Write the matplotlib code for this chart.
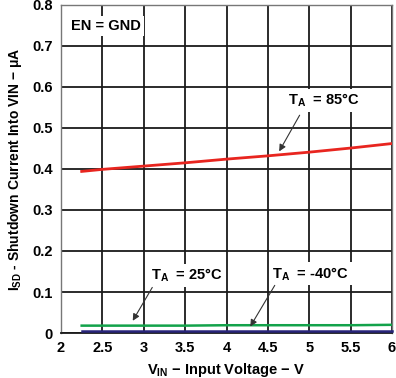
import matplotlib
matplotlib.use('Agg')
import matplotlib.pyplot as plt

plt.rcParams['font.family'] = ['Liberation Sans', 'DejaVu Sans']
plt.rcParams['font.weight'] = 'bold'
plt.rcParams['mathtext.fontset'] = 'custom'
plt.rcParams['mathtext.rm'] = 'Liberation Sans:bold'
plt.rcParams['mathtext.it'] = 'Liberation Sans:bold'
plt.rcParams['mathtext.bf'] = 'Liberation Sans:bold'

# data
vin = [2.25, 2.5, 3, 3.5, 4, 4.5, 5, 5.5, 6]
isd_85 = [0.394, 0.399, 0.407, 0.415, 0.424, 0.432, 0.441, 0.451, 0.462]
isd_25 = [0.018, 0.018, 0.018, 0.018, 0.019, 0.019, 0.019, 0.019, 0.020]
isd_m40 = [0.004, 0.004, 0.004, 0.004, 0.004, 0.004, 0.004, 0.004, 0.004]
xticks = [2, 2.5, 3, 3.5, 4, 4.5, 5, 5.5, 6]
xticklabels = ['2', '2.5', '3', '3.5', '4', '4.5', '5', '5.5', '6']
yticks = [0, 0.1, 0.2, 0.3, 0.4, 0.5, 0.6, 0.7, 0.8]
yticklabels = ['0', '0.1', '0.2', '0.3', '0.4', '0.5', '0.6', '0.7', '0.8']

fig = plt.figure(figsize=(3.96, 3.78), dpi=100)
ax = fig.add_axes([0.154, 0.119, 0.836, 0.868])

ax.plot(vin, isd_85, color='#e8251f', lw=2.0, zorder=3)
ax.plot(vin, isd_25, color='#12a24a', lw=1.8, zorder=3)
ax.plot(vin, isd_m40, color='#28247a', lw=1.8, zorder=3, clip_on=False)

ax.set_xlim(2, 6)
ax.set_ylim(0, 0.8)
ax.set_xticks(xticks)
ax.set_xticklabels(xticklabels)
ax.set_yticks(yticks)
ax.set_yticklabels(yticklabels)
ax.tick_params(length=0, labelsize=10.5, pad=6)
ax.grid(True, color='#1a1a1a', lw=1.3)
ax.set_axisbelow(True)
for s in ax.spines.values():
    s.set_color('#777777')
    s.set_linewidth(1.0)
ax.spines['bottom'].set_color('#1a1a1a')
ax.spines['bottom'].set_linewidth(1.3)

ax.set_xlabel(r'V$_{\mathregular{IN}}$ − Input Voltage − V', fontsize=10.5, fontweight='bold', labelpad=4)
ax.set_ylabel(r'I$_{\mathregular{SD}}$ - Shutdown Current Into VIN − μA', fontsize=10, fontweight='bold', labelpad=6)

box = dict(facecolor='white', edgecolor='none', pad=2)
ax.text(2.12, 0.749, 'EN = GND', fontsize=10.5, fontweight='bold', va='center', bbox=box, zorder=4)

arrow = dict(arrowstyle='-|>', color='#333333', lw=0.8, mutation_scale=10)
ax.annotate('', xy=(4.62, 0.437), xytext=(4.90, 0.537), arrowprops=arrow, zorder=5)
ax.text(4.74, 0.568, r'T$_{\mathregular{A}}$  = 85°C', fontsize=10.5, fontweight='bold', va='center', bbox=box, zorder=4)

ax.annotate('', xy=(2.85, 0.024), xytext=(3.12, 0.117), arrowprops=arrow, zorder=5)
ax.text(3.09, 0.140, r'T$_{\mathregular{A}}$  = 25°C', fontsize=10.5, fontweight='bold', va='center', bbox=box, zorder=4)

ax.annotate('', xy=(4.27, 0.010), xytext=(4.60, 0.122), arrowprops=arrow, zorder=5)
ax.text(4.55, 0.144, r'T$_{\mathregular{A}}$  = -40°C', fontsize=10.5, fontweight='bold', va='center', bbox=box, zorder=4)

fig.savefig('out.png', dpi=100)
